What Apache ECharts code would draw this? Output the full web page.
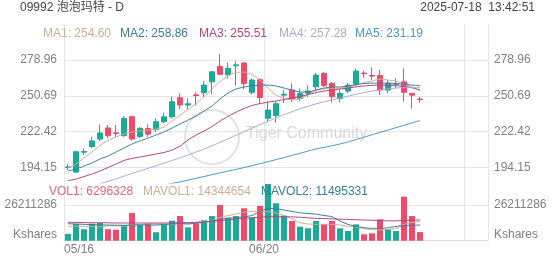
<!DOCTYPE html>
<html><head><meta charset="utf-8">
<script src="https://cdn.jsdelivr.net/npm/echarts@6/dist/echarts.min.js"></script>
<style>html,body{margin:0;padding:0;background:#fff}#c{width:552px;height:265px}</style>
</head><body><div id="c"></div>
<script>
const dates = ['05/16','05/19','05/20','05/21','05/22','05/23','05/26','05/27','05/28','05/29','05/30','06/02','06/03','06/04','06/05','06/06','06/09','06/10','06/11','06/12','06/13','06/16','06/17','06/18','06/19','06/20','06/23','06/24','06/25','06/26','06/27','06/30','07/02','07/03','07/04','07/07','07/08','07/09','07/10','07/11','07/14','07/15','07/16','07/17','07/18'];
const emptySlots = 8;
const open  = [194.2,190.5,206.2,210.6,216.6,225.4,221.5,219.3,234.3,218.7,225.0,224.2,230.3,234.2,249.2,243.5,251.5,253.2,261.8,274.0,267.3,274.5,276.7,253.5,263.5,233.0,235.2,251.3,255.3,248.5,252.7,257.9,268.5,260.6,248.7,254.5,260.0,268.7,266.8,266.8,255.3,259.8,261.8,252.7,248.2];
const close = [194.6,206.6,206.8,215.1,221.4,219.2,221.0,233.0,216.6,225.1,220.5,230.3,234.2,246.1,243.5,244.5,251.0,259.2,269.7,267.7,272.4,275.2,260.5,263.2,249.3,239.5,244.5,252.0,248.2,252.5,254.5,267.1,258.7,250.0,252.7,259.2,270.3,268.2,266.3,255.3,260.6,260.2,253.5,251.3,247.8];
const low   = [192.3,190.0,204.0,209.3,215.0,217.2,218.5,218.4,215.3,217.2,218.4,222.4,229.0,233.0,240.0,240.0,243.0,250.0,252.0,267.0,264.5,259.0,256.0,251.9,244.8,229.8,229.5,245.0,246.0,246.6,250.0,255.3,257.7,245.4,245.6,252.9,259.2,265.0,263.2,251.3,252.9,256.6,246.1,240.7,245.3];
const high  = [196.8,207.5,209.3,218.5,228.2,227.7,227.7,234.6,234.8,225.9,228.2,233.0,237.5,250.0,252.7,248.7,253.5,262.3,270.5,283.7,277.0,278.0,277.5,264.5,264.5,246.3,246.5,255.3,260.5,256.5,259.2,268.7,269.7,261.6,255.3,260.8,272.4,270.5,273.0,271.1,263.2,264.5,272.4,252.7,250.0];
const ma1 = [193.8,196.9,201.6,206.4,211.5,215.5,218.2,220.6,222.2,223.0,223.7,224.5,226.1,231.0,235.3,240.0,244.5,250.0,256.0,262.0,266.5,269.2,269.5,267.5,263.0,257.0,251.3,249.0,247.5,248.5,251.5,255.0,256.2,256.7,256.7,257.8,259.0,261.2,262.4,264.0,263.2,262.4,260.0,257.7,254.60];
const ma2 = [191.4,192.9,195.3,197.7,200.9,203.2,206.4,209.5,212.7,215.1,217.4,219.8,222.2,225.3,228.5,231.6,234.8,238.7,242.7,248.2,252.9,256.1,257.7,258.8,259.2,259.2,258.5,256.9,255.3,253.7,253.7,255.3,256.9,257.7,257.7,258.5,259.6,260.4,260.8,260.8,260.8,260.4,260.0,259.2,258.86];
const ma3 = [183.8,185.0,187.0,189.0,191.4,194.1,196.9,199.7,201.3,202.4,203.6,204.8,206.0,207.9,211.1,215.8,219.8,222.9,226.5,230.8,234.4,237.9,240.7,243.1,244.6,245.8,246.6,247.8,249.0,250.2,251.7,253.3,254.5,255.3,256.1,256.9,257.8,258.5,259.0,259.2,259.0,258.7,258.2,257.1,255.51];
const ma4 = [172.0,174.5,177.0,179.3,181.3,183.2,185.2,187.3,189.4,191.5,193.5,195.5,197.5,199.6,201.8,204.0,206.3,208.7,211.3,214.0,216.8,219.6,222.4,225.2,228.0,230.6,233.2,235.8,238.2,240.5,242.5,244.4,246.1,247.6,249.1,250.5,252.0,253.3,254.5,255.5,256.3,256.9,257.2,257.3,257.28];
const ma5 = [163.4,164.8,166.2,167.6,169.0,170.4,171.8,173.2,174.6,176.0,177.4,178.8,180.2,181.6,182.8,184.2,185.6,187.0,188.5,189.9,191.3,192.7,194.1,195.6,197.2,198.7,200.4,202.0,203.7,205.4,207.1,208.8,210.0,211.3,212.7,214.3,216.2,218.1,220.0,221.9,223.7,225.6,227.5,229.4,231.19];
// volumes in millions of shares
const volume = [4.9,12.3,8.4,12.5,13.0,8.4,8.1,11.5,20.3,11.5,12.3,6.2,12.0,14.7,18.1,9.8,12.8,15.0,18.1,26.2,16.9,18.1,23.8,17.2,25.5,41.6,27.5,18.4,14.5,10.3,9.1,14.5,12.0,14.5,9.1,7.1,12.0,4.7,5.4,15.7,8.4,7.1,32.3,18.1,6.296328];
const mavol1 = [10.5,10.8,10.6,10.4,10.2,10.9,10.8,10.7,12.0,11.8,12.5,12.3,12.4,11.8,12.6,12.4,13.4,14.0,14.8,17.0,18.4,19.5,21.0,21.5,21.5,21.3,20.3,18.5,16.0,13.2,12.3,12.0,12.0,12.0,11.5,10.5,10.0,9.0,8.0,8.0,8.3,9.0,12.0,13.5,14.344654];
const mavol2 = [12.5,12.3,12.0,11.8,11.6,11.5,11.4,11.3,11.5,11.6,11.5,11.5,11.9,12.2,12.6,12.3,12.8,13.5,14.5,15.5,16.5,17.0,17.5,18.5,21.5,23.5,23.5,22.5,21.5,20.5,20.0,19.5,18.5,17.6,14.5,12.0,10.5,9.5,9.1,9.1,9.5,10.5,11.2,11.4,11.495331];
const mavol3 = [13.5,13.4,13.3,13.2,13.2,13.1,13.0,13.0,13.0,13.0,13.0,13.0,13.0,13.1,13.2,13.3,13.5,13.8,14.2,14.8,15.3,15.8,16.3,16.8,17.2,17.6,17.6,17.6,17.5,17.2,16.8,16.4,16.2,16.0,15.8,15.6,15.4,15.2,15.0,14.7,14.6,14.6,14.9,15.1,15.2];
const priceTicks = [194.15, 222.42, 250.69, 278.96];
const volTicks = [0, 26.211286];
const xTickLabels = ['05/16', '06/20'];

const UP = '#19aa98', DOWN = '#f2496b';
const C1 = '#cfae92', C2 = '#3b7d98', C3 = '#b5457f', C4 = '#aaa9dc', C5 = '#4a97cc';
const FONT = '"Liberation Sans", Arial, "Noto Sans CJK SC", sans-serif';
const GRID = '#e6e6e6', LBL = '#808080';

const cats = dates.concat(new Array(emptySlots).fill(''));
const nSlots = cats.length;
const candle = dates.map((d, i) => [open[i], close[i], low[i], high[i]]);
const volBars = volume.map((v, i) => ({value: v, itemStyle: {color: close[i] >= open[i] ? UP : DOWN}}));
const fmtVol = v => Math.round(v * 1e6).toString();

const chart = echarts.init(document.getElementById('c'), null, {renderer: 'canvas'});
const lineS = (name, data, color, xi, yi) => ({
  name, type: 'line', data, xAxisIndex: xi, yAxisIndex: yi, showSymbol: false, symbol: 'none',
  smooth: 0.2, lineStyle: {width: 1, color}, itemStyle: {color}, z: 4, silent: true, animation: false
});
const txt = (x, y, text, fill, align) => ({
  type: 'text', x, y, silent: true, z: 100,
  style: {text, fill, font: '12px ' + FONT, align: align || 'left', verticalAlign: 'middle'}
});

chart.setOption({
  animation: false,
  backgroundColor: '#fff',
  textStyle: {fontFamily: FONT},
  grid: [
    {left: 64, right: 64, top: 24.3, bottom: 24.3},
    {left: 64, right: 64, top: 24.3, height: 158.7},
    {left: 64, right: 64, top: 169.3, height: 71.4}
  ],
  xAxis: [
    {type: 'value', gridIndex: 0, min: 0, max: nSlots, interval: 25,
     axisLine: {show: true, lineStyle: {color: '#dcdcdc'}}, axisTick: {show: false},
     splitLine: {show: true, lineStyle: {color: GRID}},
     axisLabel: {color: LBL, fontSize: 12, fontFamily: FONT, margin: 3, alignMinLabel: 'left',
       formatter: v => { const d = dates[Math.round(v)]; return (Number.isInteger(v) && xTickLabels.includes(d)) ? d : ''; }}},
    {type: 'category', gridIndex: 1, data: cats, boundaryGap: true, show: false},
    {type: 'category', gridIndex: 2, data: cats, boundaryGap: true, show: false}
  ],
  yAxis: [
    {type: 'value', gridIndex: 0, min: 0, max: 1, show: false},
    {type: 'value', gridIndex: 1, min: 181.91, max: 307.23, position: 'left', scale: true,
     axisLine: {show: false}, axisTick: {show: false, customValues: priceTicks},
     axisLabel: {customValues: priceTicks, color: LBL, fontSize: 12, fontFamily: FONT, margin: 7, formatter: v => v.toFixed(2)},
     splitLine: {show: true, lineStyle: {color: GRID}}},
    {type: 'value', gridIndex: 1, min: 181.91, max: 307.23, position: 'right', scale: true,
     axisLine: {show: false}, axisTick: {show: false, customValues: priceTicks},
     axisLabel: {customValues: priceTicks, color: LBL, fontSize: 12, fontFamily: FONT, margin: 6, formatter: v => v.toFixed(2)},
     splitLine: {show: false}},
    {type: 'value', gridIndex: 2, min: 0, max: 52.422572, position: 'left',
     axisLine: {show: false}, axisTick: {show: false, customValues: [volTicks[1]]},
     axisLabel: {customValues: volTicks, color: LBL, fontSize: 12, fontFamily: FONT, margin: 7, verticalAlignMinLabel: 'bottom',
       formatter: v => v === 0 ? 'Kshares' : fmtVol(v)},
     splitLine: {show: true, lineStyle: {color: GRID}}},
    {type: 'value', gridIndex: 2, min: 0, max: 52.422572, position: 'right',
     axisLine: {show: false}, axisTick: {show: false, customValues: [volTicks[1]]},
     axisLabel: {customValues: volTicks, color: LBL, fontSize: 12, fontFamily: FONT, margin: 6, verticalAlignMinLabel: 'bottom',
       formatter: v => v === 0 ? 'Kshares' : fmtVol(v)},
     splitLine: {show: false}}
  ],
  series: [
    {name: 'K', type: 'candlestick', xAxisIndex: 1, yAxisIndex: 1, data: candle, barWidth: 5, z: 3,
     itemStyle: {color: UP, color0: DOWN, borderColor: UP, borderColor0: DOWN, borderWidth: 1}},
    lineS('MA1', ma1, C1, 1, 1),
    lineS('MA2', ma2, C2, 1, 1),
    lineS('MA3', ma3, C3, 1, 1),
    lineS('MA4', ma4, C4, 1, 1),
    lineS('MA5', ma5, C5, 1, 1),
    {name: 'VOL', type: 'bar', xAxisIndex: 2, yAxisIndex: 3, data: volBars, barWidth: 6, z: 3},
    lineS('MAVOL1', mavol1, C1, 2, 3),
    lineS('MAVOL2', mavol2, C2, 2, 3),
    lineS('MAVOL3', mavol3, C3, 2, 3)
  ],
  graphic: [
    {type: 'circle', shape: {cx: 212, cy: 137, r: 27}, style: {fill: 'none', stroke: '#e2e2e2', lineWidth: 2}, z: 1, silent: true},
    {type: 'text', x: 246, y: 134, z: 1, silent: true,
     style: {text: 'Tiger Community', fill: '#d8d8d8', font: '16px ' + FONT, verticalAlign: 'middle'}},
    txt(20, 8, '09992 泡泡玛特 - D', '#444'),
    txt(535, 8, '2025-07-18  13:42:51', '#444', 'right'),
    txt(43, 34, 'MA1: ' + ma1[ma1.length - 1].toFixed(2), C1),
    txt(120, 34, 'MA2: ' + ma2[ma2.length - 1].toFixed(2), C2),
    txt(199, 34, 'MA3: ' + ma3[ma3.length - 1].toFixed(2), C3),
    txt(279, 34, 'MA4: ' + ma4[ma4.length - 1].toFixed(2), C4),
    txt(355, 34, 'MA5: ' + ma5[ma5.length - 1].toFixed(2), C5),
    txt(49, 192, 'VOL1: ' + fmtVol(volume[volume.length - 1]), '#ee6378'),
    txt(143, 192, 'MAVOL1: ' + fmtVol(mavol1[mavol1.length - 1]), C1),
    txt(261, 192, 'MAVOL2: ' + fmtVol(mavol2[mavol2.length - 1]), C2)
  ]
});
</script></body></html>
